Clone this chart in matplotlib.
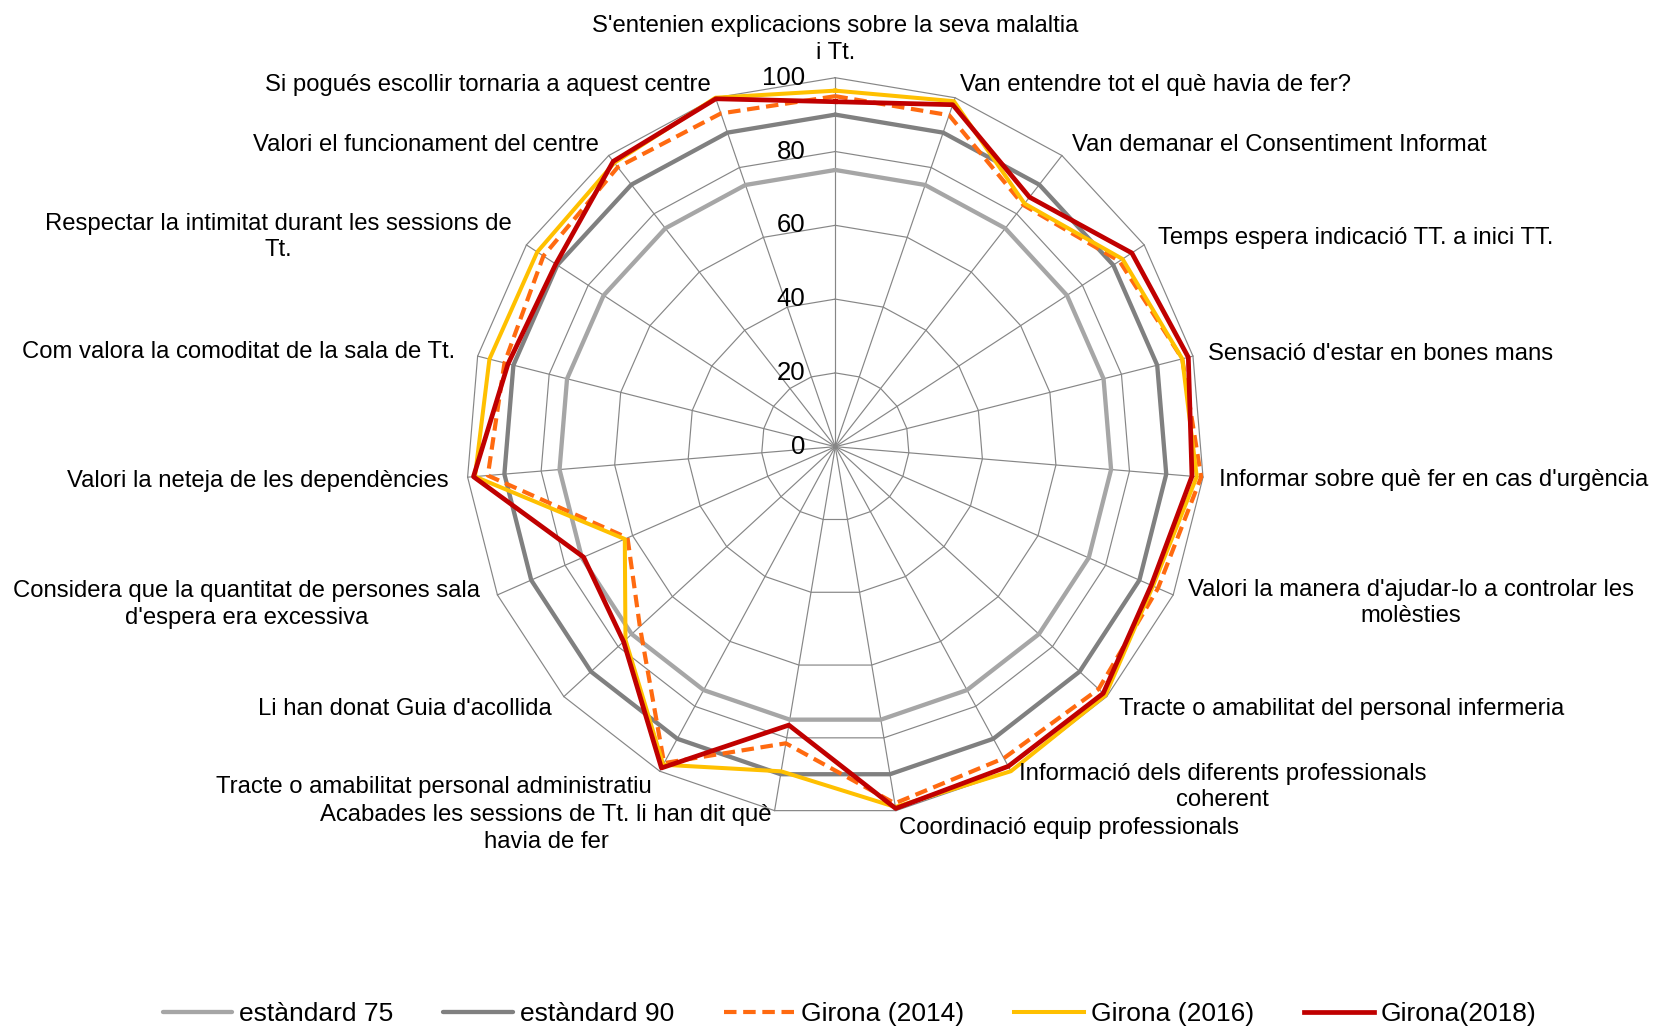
import numpy as np
import matplotlib.pyplot as plt

plt.rcParams['font.family'] = ['Liberation Sans', 'DejaVu Sans']

categories = [
    "S'entenien explicacions sobre la seva malaltia\ni Tt.",
    "Van entendre tot el què havia de fer?",
    "Van demanar el Consentiment Informat",
    "Temps espera indicació TT. a inici TT.",
    "Sensació d'estar en bones mans",
    "Informar sobre què fer en cas d'urgència",
    "Valori la manera d'ajudar-lo a controlar les\nmolèsties",
    "Tracte o amabilitat del personal infermeria",
    "Informació dels diferents professionals\ncoherent",
    "Coordinació equip professionals",
    "Acabades les sessions de Tt. li han dit què\nhavia de fer",
    "Tracte o amabilitat personal administratiu",
    "Li han donat Guia d'acollida",
    "Considera que la quantitat de persones sala\nd'espera era excessiva",
    "Valori la neteja de les dependències",
    "Com valora la comoditat de la sala de Tt.",
    "Respectar la intimitat durant les sessions de\nTt.",
    "Valori el funcionament del centre",
    "Si pogués escollir tornaria a aquest centre",
]

estandard75 = [75, 75, 75, 75, 75, 75, 75, 75, 75, 75, 75, 75, 75, 75, 75, 75, 75, 75, 75]
estandard90 = [90, 90, 90, 90, 90, 90, 90, 90, 90, 90, 90, 90, 90, 90, 90, 90, 90, 90, 90]
girona2014 = [95, 95, 83, 92, 97, 99.5, 95.5, 97, 96, 98, 81.5, 97.5, 72, 61.5, 94.5, 92.5, 94.5, 96, 95.5]
girona2016 = [96.5, 99, 83.5, 93, 97, 98.3, 94, 99.5, 100, 99, 89.2, 98, 77.3, 62.3, 98, 96.7, 96.5, 97.5, 100]
girona2018 = [93.5, 98, 85.7, 96, 98.7, 97, 93.5, 98.7, 98.5, 99.4, 76.5, 99, 78, 74.5, 98.4, 91.5, 90.5, 98, 99.7]

rticks = [0, 20, 40, 60, 80, 100]

n = len(categories)
theta = np.linspace(0, 2 * np.pi, n, endpoint=False)
theta_c = np.append(theta, theta[0])


def closed(v):
    return np.append(v, v[0])


fig = plt.figure(figsize=(16.59, 10.32), dpi=100)
ax = fig.add_axes([0.2811, 0.2096, 0.4448, 0.7151], projection='polar')
ax.set_theta_zero_location('N')
ax.set_theta_direction(-1)
ax.set_ylim(0, 100)
ax.grid(False)
ax.set_xticks([])
ax.set_yticks([])
ax.spines['polar'].set_visible(False)
ax.set_facecolor('none')

# polygon grid + spokes
grid_c = '#868686'
for r in rticks[1:]:
    ax.plot(theta_c, [r] * (n + 1), color=grid_c, lw=0.85, clip_on=False, zorder=1)
for t in theta:
    ax.plot([t, t], [0, 100], color=grid_c, lw=0.85, clip_on=False, zorder=1)

for r in rticks:
    ax.annotate(str(r), xy=(0, r), xytext=(-30, 0), textcoords='offset pixels',
                ha='right', va='center', fontsize=18.5, annotation_clip=False)

kw = dict(clip_on=False, solid_joinstyle='round', dash_joinstyle='round', zorder=3)
ax.plot(theta_c, closed(estandard75), color='#A6A6A6', lw=3.1, label='estàndard 75',
        solid_capstyle='round', **kw)
ax.plot(theta_c, closed(estandard90), color='#808080', lw=3.1, label='estàndard 90',
        solid_capstyle='round', **kw)
ax.plot(theta_c, closed(girona2014), color='#FF6A10', lw=3.0, dashes=(3, 1.6),
        label='Girona (2014)', **kw)
ax.plot(theta_c, closed(girona2016), color='#FFC000', lw=2.9, label='Girona (2016)', **kw)
ax.plot(theta_c, closed(girona2018), color='#C00000', lw=3.4, label='Girona(2018)', **kw)

# category labels outside the 100 ring
extra = {15: 7, 14: 3, 13: 3, 16: 2}
for i, (t, lab) in enumerate(zip(theta, categories)):
    s, c = np.sin(t), np.cos(t)
    if abs(s) < 0.01:
        ha, va = 'center', 'bottom'
    elif s > 0:
        ha, va = 'left', 'center'
    else:
        ha, va = 'right', 'center'
    d = 16 + extra.get(i, 0)
    ax.annotate(lab, xy=(t, 100), xytext=(d * s, d * c - 2), textcoords='offset pixels',
                ha=ha, va=va, multialignment='center', fontsize=17.2, linespacing=1.25,
                annotation_clip=False)

fig.legend(loc='center', bbox_to_anchor=(0.512, 0.0174), ncol=5, frameon=False,
           fontsize=19, handlelength=2.65, handletextpad=0.25, columnspacing=1.9)

fig.savefig('out.png', dpi=100, facecolor='white')
